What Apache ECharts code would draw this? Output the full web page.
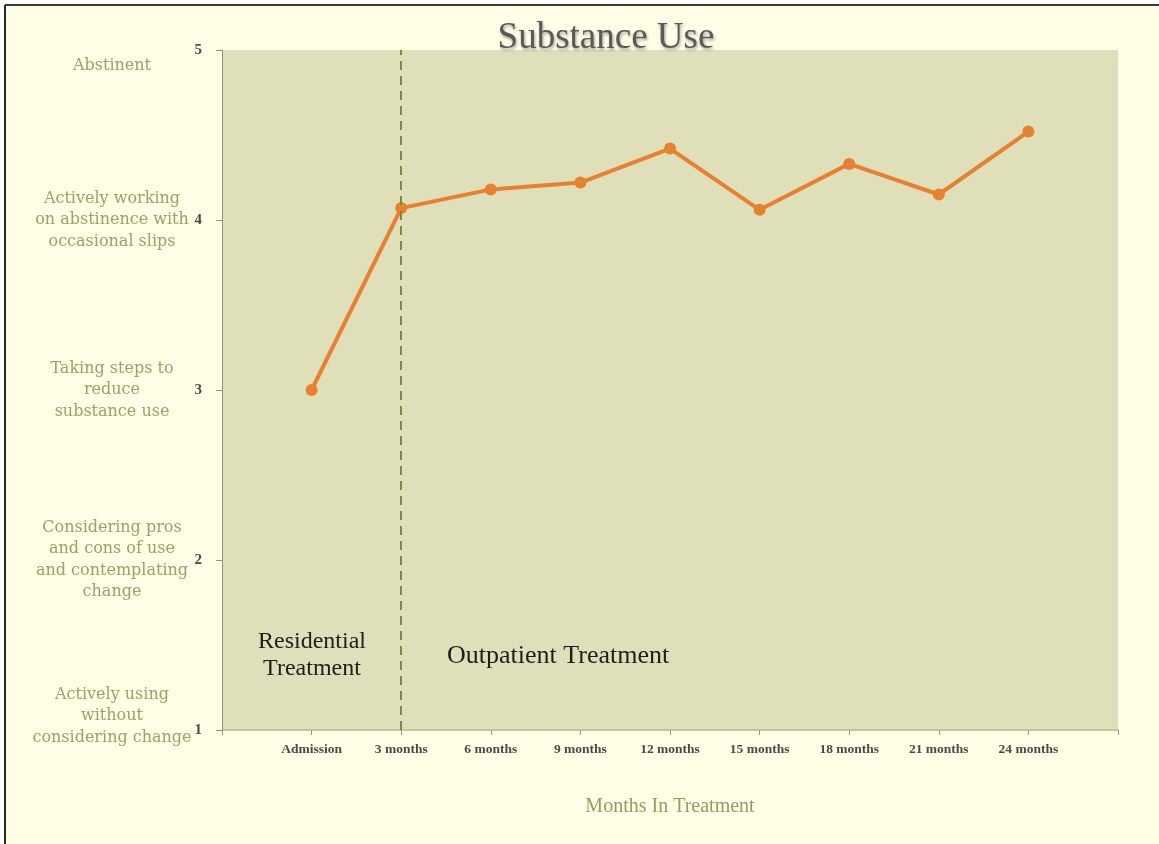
<!DOCTYPE html>
<html>
<head>
<meta charset="utf-8">
<script src="https://cdn.jsdelivr.net/npm/echarts@6/dist/echarts.min.js"></script>
<style>
html,body{margin:0;padding:0;background:#ffffff;}
#chart{width:1159px;height:844px;}
</style>
</head>
<body>
<div id="chart"></div>
<script>
// Data
const categories = ['', 'Admission', '3 months', '6 months', '9 months', '12 months', '15 months', '18 months', '21 months', '24 months', ''];
const scores = [null, 3.0, 4.07, 4.18, 4.22, 4.42, 4.06, 4.33, 4.15, 4.52, null];
const stageLabels = {
  5: 'Abstinent',
  4: 'Actively working\non abstinence with\noccasional slips',
  3: 'Taking steps to\nreduce\nsubstance use',
  2: 'Considering pros\nand cons of use\nand contemplating\nchange',
  1: 'Actively using\nwithout\nconsidering change'
};
const dividerCategory = '3 months';
const phaseLabels = ['Residential\nTreatment', 'Outpatient Treatment'];

const serif = '"Liberation Serif", "DejaVu Serif", serif';
const chart = echarts.init(document.getElementById('chart'));

function stageFormatter(v) {
  const t = stageLabels[v];
  if (!t) return '';
  const lines = t.split('\n').map(l => '{s|' + l + '}');
  if (v === 5) return '{top| }\n' + lines.join('\n');
  if (v === 1) return lines.join('\n') + '\n{bot| }';
  return lines.join('\n');
}

chart.setOption({
  backgroundColor: '#ffffff',
  title: {
    text: 'Substance Use',
    left: 601,
    top: 15,
    textAlign: 'center',
    textStyle: {
      fontFamily: serif,
      fontSize: 37,
      fontWeight: 'normal',
      color: '#5a5a58',
      textShadowColor: 'rgba(0,0,0,0.35)',
      textShadowBlur: 3,
      textShadowOffsetX: 1,
      textShadowOffsetY: 2
    }
  },
  grid: {
    left: 222, right: 41, top: 50, bottom: 114,
    show: true, backgroundColor: '#dfdfb9', borderWidth: 0
  },
  xAxis: {
    type: 'category',
    data: categories,
    boundaryGap: false,
    name: 'Months In Treatment',
    nameLocation: 'middle',
    nameGap: 67,
    nameTextStyle: { fontFamily: serif, fontSize: 20, color: '#979d5e' },
    axisLine: { lineStyle: { color: '#b7b98c', width: 1.5 } },
    axisTick: { show: true, interval: 0, length: 5, lineStyle: { color: '#9a9c80' } },
    axisLabel: { interval: 0, fontFamily: serif, fontSize: 13.5, fontWeight: 'bold', color: '#4a4a48', margin: 13 },
    splitLine: { show: false }
  },
  yAxis: [
    {
      type: 'value', min: 1, max: 5, interval: 1,
      axisLine: { show: true, lineStyle: { color: '#8f9275', width: 1 } },
      axisTick: { show: true, length: 6, lineStyle: { color: '#8f9275' } },
      axisLabel: { fontFamily: serif, fontSize: 15, fontWeight: 'bold', color: '#4a4a48', margin: 20 },
      splitLine: { show: false }
    },
    {
      type: 'value', min: 1, max: 5, interval: 1, position: 'left',
      axisLine: { show: false }, axisTick: { show: false }, splitLine: { show: false },
      axisLabel: {
        align: 'center', margin: 110,
        formatter: stageFormatter,
        rich: {
          s: { fontFamily: '"DejaVu Serif", serif', fontSize: 16, color: '#9da165', lineHeight: 21.5, align: 'center' },
          top: { fontSize: 10, lineHeight: 32 },
          bot: { fontSize: 10, lineHeight: 28 }
        }
      }
    }
  ],
  series: [{
    type: 'line',
    data: scores,
    yAxisIndex: 0,
    symbol: 'circle',
    symbolSize: 12,
    lineStyle: { color: '#e8812f', width: 4 },
    itemStyle: { color: '#e8812f' },
    connectNulls: false,
    markLine: {
      silent: true,
      symbol: 'none',
      label: { show: false },
      lineStyle: { color: '#7a8a3e', type: [9, 6], width: 2 },
      data: [{ xAxis: dividerCategory }]
    }
  }],
  graphic: [
    { type: 'rect', z: -10, silent: true, shape: { x: 5, y: 5, width: 1160, height: 845 }, style: { fill: '#fefde6' } },
    { type: 'line', silent: true, shape: { x1: 5, y1: 5, x2: 1159, y2: 5 }, style: { stroke: '#3a3a3a', lineWidth: 2 } },
    { type: 'line', silent: true, shape: { x1: 5, y1: 5, x2: 5, y2: 844 }, style: { stroke: '#2a2a2a', lineWidth: 2 } },
    { type: 'text', x: 312, y: 628, style: { text: phaseLabels[0], fontFamily: serif, fontSize: 24, fill: '#1e1e1e', align: 'center', lineHeight: 27 } },
    { type: 'text', x: 447, y: 643, style: { text: phaseLabels[1], fontFamily: serif, fontSize: 26, fill: '#1e1e1e' } }
  ]
});
</script>
</body>
</html>
